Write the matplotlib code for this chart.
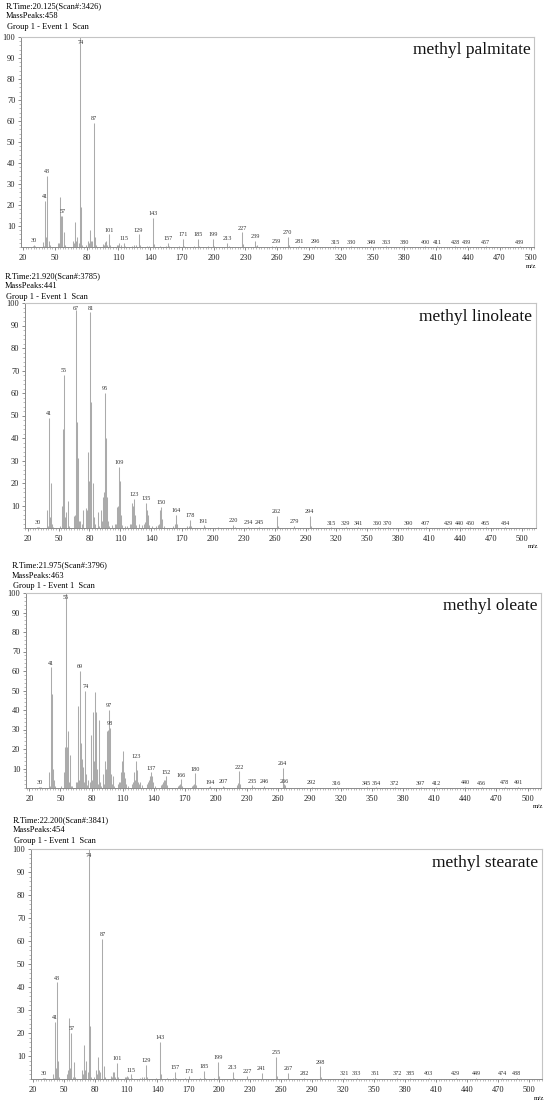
import numpy as np
import matplotlib
matplotlib.use('Agg')
import matplotlib.pyplot as plt
from matplotlib.ticker import MultipleLocator

W, H = 550, 1102
SERIF = ['Liberation Serif', 'DejaVu Serif']

# ---- methyl palmitate ----
pal_mz = [29, 30, 31, 39, 40, 41, 42, 43, 44, 45, 53, 54, 55, 56, 57, 59, 60, 67, 68, 69,
          70, 71, 73, 74, 75, 76, 79, 81, 82, 83, 84, 85, 87, 88, 89, 95, 96, 97, 98, 99,
          101, 102, 109, 110, 111, 112, 115, 116, 123, 125, 127, 129, 130, 137, 139, 143, 144,
          149, 155, 157, 158, 167, 171, 172, 181, 185, 186, 195, 199, 200, 213, 214, 227, 228,
          239, 240, 241, 255, 259, 270, 271, 281, 296, 315, 330, 349, 363, 380, 400, 411, 428,
          439, 457, 489]
pal_int = [0.5, 1, 0.5, 2.5, 0.5, 22, 5, 34, 3, 1, 2, 2, 24, 15, 15, 7, 1, 3, 2, 12,
           3, 5, 2, 100, 19, 1, 1, 3, 2, 8, 3, 3, 59, 5, 1, 1.5, 1, 2.5, 3, 1,
           6, 1, 1, 1, 2, 1, 2, 0.5, 0.5, 1, 1, 6, 1, 0.5, 0.5, 14, 1.5,
           0.5, 0.5, 2, 0.5, 0.5, 4, 0.5, 0.5, 4, 0.5, 0.5, 4, 0.5, 2, 0.5, 7, 1.5,
           3, 0.5, 1, 0.5, 0.6, 5, 1, 0.4, 0.4, 0.3, 0.3, 0.3, 0.3, 0.3, 0.3, 0.3, 0.3,
           0.3, 0.3, 0.3]
pal_labels = [30, 41, 43, 57, 74, 87, 101, 115, 129, 143, 157, 171, 185, 199, 213, 227,
              239, 259, 270, 281, 296, 315, 330, 349, 363, 380, 400, 411, 428, 439, 457, 489]

# ---- methyl linoleate ----
lin_mz = [29, 30, 31, 39, 40, 41, 42, 43, 44, 45, 51, 53, 54, 55, 56, 57, 59, 60, 65, 66,
          67, 68, 69, 70, 71, 73, 74, 77, 78, 79, 80, 81, 82, 83, 84, 85, 88, 89, 91, 92,
          93, 94, 95, 96, 97, 98, 99, 102, 105, 106, 107, 108, 109, 110, 111, 112, 115, 117,
          119, 120, 121, 122, 123, 124, 125, 128, 131, 133, 134, 135, 136, 137, 138, 141, 145,
          147, 148, 149, 150, 151, 152, 161, 163, 164, 165, 175, 177, 178, 179, 191, 192, 205,
          220, 221, 234, 245, 262, 263, 279, 294, 295, 315, 329, 341, 360, 370, 390, 407, 429,
          440, 450, 465, 484]
lin_int = [0.3, 0.5, 0.3, 8, 1, 49, 5, 20, 2, 0.5, 1, 10, 44, 68, 5, 7, 12, 1, 5.5, 6,
           97, 47, 31, 3, 3, 2, 8, 9, 8, 34, 21, 96, 56, 20, 5, 2, 7, 1, 8, 3,
           14, 16, 60, 40, 14, 3, 1, 1.5, 2, 2, 9.5, 10, 27, 21, 6, 1.5, 1, 1,
           2, 2, 11, 10, 13, 6, 1.5, 2, 1.5, 2, 2.5, 11, 8, 6, 1.5, 1, 1,
           1.5, 2, 8, 9.5, 4, 1, 1, 2, 6, 2, 1, 1, 3.5, 1, 1.2, 0.5, 0.5,
           1.5, 0.5, 0.6, 0.5, 5.5, 1, 1, 5.5, 1, 0.3, 0.3, 0.3, 0.3, 0.3, 0.3, 0.3, 0.3,
           0.3, 0.3, 0.3, 0.3]
lin_labels = [30, 41, 55, 67, 81, 95, 109, 123, 135, 150, 164, 178, 191, 220, 234, 245,
              262, 279, 294, 315, 329, 341, 360, 370, 390, 407, 429, 440, 450, 465, 484]

# ---- methyl oleate ----
ole_mz = [29, 30, 31, 39, 40, 41, 42, 43, 44, 45, 51, 53, 54, 55, 56, 57, 58, 59, 60, 61,
          65, 66, 67, 68, 69, 70, 71, 72, 73, 74, 75, 76, 77, 78, 79, 80, 81, 82, 83, 84,
          85, 86, 87, 88, 89, 91, 92, 93, 94, 95, 96, 97, 98, 99, 100, 101, 102, 105, 106,
          107, 108, 109, 110, 111, 112, 113, 115, 119, 120, 121, 122, 123, 124, 125, 126, 127,
          129, 133, 134, 135, 136, 137, 138, 139, 141, 147, 148, 149, 150, 151, 152, 153, 163,
          164, 165, 166, 167, 177, 178, 179, 180, 181, 193, 194, 207, 208, 220, 221, 222, 223,
          235, 236, 246, 264, 265, 266, 292, 316, 345, 354, 372, 397, 412, 440, 456, 478, 491]
ole_int = [0.3, 0.5, 0.3, 8, 1, 62, 48, 10, 4, 1, 1, 8, 21, 100, 21, 29, 3, 17, 1, 1,
           3, 3, 42, 4, 60, 23, 15, 11, 3, 50, 7, 1.5, 4, 3, 27, 4, 39, 14, 49, 39,
           10, 2, 35, 3, 1, 7, 2, 14, 10, 29, 30, 40, 31, 7, 2, 6, 1, 2, 3,
           3, 8, 14, 19, 8, 5, 2, 1, 2, 3, 8, 4, 14, 9, 3, 2, 3,
           1.5, 2, 3, 4, 6, 8, 6, 3, 1, 1.5, 2, 3, 4, 4, 6, 1.5, 1,
           1.5, 2, 4.5, 1, 1, 1.5, 2, 7.5, 1.5, 0.5, 0.8, 1, 0.5, 1.5, 2.5, 8.5, 2,
           1.5, 0.5, 1, 10.5, 2, 1.5, 0.5, 0.4, 0.4, 0.3, 0.4, 0.4, 0.4, 0.6, 0.4, 0.5, 0.5]
ole_labels = [30, 41, 55, 69, 74, 97, 98, 123, 137, 152, 166, 180, 194, 207, 222, 235, 246,
              264, 266, 292, 316, 345, 354, 372, 397, 412, 440, 456, 478, 491]

# ---- methyl stearate ----
ste_mz = [29, 30, 31, 39, 40, 41, 42, 43, 44, 45, 53, 54, 55, 56, 57, 58, 59, 60, 67, 68,
          69, 70, 71, 73, 74, 75, 76, 79, 81, 82, 83, 84, 85, 87, 88, 89, 95, 96, 97, 98,
          99, 101, 102, 109, 110, 111, 112, 115, 116, 123, 125, 127, 129, 130, 139, 143, 144,
          149, 155, 157, 158, 167, 171, 181, 185, 186, 195, 199, 200, 213, 214, 227, 241, 255,
          256, 267, 282, 298, 299, 321, 333, 351, 372, 385, 403, 429, 449, 474, 488]
ste_int = [0.3, 0.5, 0.3, 2, 0.5, 25, 5, 42, 8, 1, 2, 4, 26.5, 5, 20, 1, 7.5, 1, 4, 2,
           15, 4, 8, 3, 100, 23, 1, 1, 4, 2, 9.5, 4, 3, 61, 5.5, 1, 1.5, 1, 3, 3,
           1, 7, 1, 1, 1, 1.5, 1, 2, 0.5, 0.5, 1, 1, 6, 1, 0.5, 16, 2,
           0.5, 0.5, 3, 0.5, 0.5, 1.5, 0.5, 3.5, 0.5, 0.5, 7.5, 1.5, 3, 0.5, 1.5, 2.5, 9.5,
           1.5, 2.5, 0.5, 5.5, 1, 0.5, 0.4, 0.4, 0.4, 0.5, 0.4, 0.4, 0.4, 0.5, 0.5]
ste_labels = [30, 41, 43, 57, 74, 87, 101, 115, 129, 143, 157, 171, 185, 199, 213, 227,
              241, 255, 267, 282, 298, 321, 333, 351, 372, 385, 403, 429, 449, 474, 488]

names = ['methyl palmitate', 'methyl linoleate', 'methyl oleate', 'methyl stearate']
rtimes = ['R.Time:20.125(Scan#:3426)', 'R.Time:21.920(Scan#:3785)',
          'R.Time:21.975(Scan#:3796)', 'R.Time:22.200(Scan#:3841)']
masspeaks = ['MassPeaks:458', 'MassPeaks:441', 'MassPeaks:463', 'MassPeaks:454']
x_ticks = [20, 50, 80, 110, 140, 170, 200, 230, 260, 290, 320, 350, 380, 410, 440, 470, 500]

spectra = [(pal_mz, pal_int, pal_labels), (lin_mz, lin_int, lin_labels),
           (ole_mz, ole_int, ole_labels), (ste_mz, ste_int, ste_labels)]

# panel geometry in pixels: left, top, right, bottom, header x, header y, x limits
boxes = [(21, 37, 534, 247, 6, 6, (18, 502.5)),
         (25, 303, 536, 528, 5, 276, (17.4, 514)),
         (26, 593, 541, 788, 12, 565, (16.8, 513)),
         (31, 849, 542, 1079, 13, 820, (17.8, 512.5))]

fig = plt.figure(figsize=(W / 100, H / 100), dpi=100)

def fx(x):
    return x / W

def fy(y):
    return 1 - y / H

for i, (mz, inten, labels) in enumerate(spectra):
    l, t, r, b, hx, hy, xl = boxes[i]
    ax = fig.add_axes([fx(l), fy(b), (r - l) / W, (b - t) / H])
    ax.vlines(mz, 0, inten, color='#ababab', lw=0.75)
    ax.set_xlim(*xl)
    ax.set_ylim(0, 100)

    lookup = dict(zip(mz, inten))
    for m in labels:
        h = lookup.get(m, 0.3)
        ax.text(m, min(h + 0.8, 96.3), str(m), ha='center', va='bottom',
                fontsize=4.4, family=SERIF, color='#333333')

    ax.set_xticks(x_ticks)
    ax.xaxis.set_minor_locator(MultipleLocator(2.5))
    ax.set_yticks(range(10, 101, 10))
    ax.yaxis.set_minor_locator(MultipleLocator(2))
    ax.tick_params(which='major', direction='out', length=2.5, width=0.6,
                   color='#777777', labelsize=6, pad=1.5)
    ax.tick_params(which='minor', direction='out', length=1.3, width=0.4, color='#888888')
    ax.tick_params(axis='x', which='major', pad=2.5)
    for lab in ax.get_xticklabels() + ax.get_yticklabels():
        lab.set_family(SERIF)
        lab.set_color('#222222')
    for side in ['top', 'right']:
        ax.spines[side].set_color('#c4c4c4')
        ax.spines[side].set_linewidth(0.8)
    for side in ['left', 'bottom']:
        ax.spines[side].set_color('#8a8a8a')
        ax.spines[side].set_linewidth(0.7)

    ax.text(0.993, 0.975, names[i], transform=ax.transAxes, ha='right', va='top',
            fontsize=12.5, family=SERIF, color='#111111')

    fig.text(fx(hx), fy(hy), rtimes[i], ha='left', va='center', fontsize=6, family=SERIF)
    fig.text(fx(hx), fy(hy + 10.5), masspeaks[i], ha='left', va='center', fontsize=6, family=SERIF)
    fig.text(fx(hx + 1), fy(hy + 21), 'Group 1 - Event 1  Scan', ha='left', va='center',
             fontsize=6, family=SERIF)
    fig.text(fx(r - 3), fy(b + 19), 'm/z', ha='center', va='center', fontsize=5, family=SERIF)

fig.savefig('out.png', dpi=100, facecolor='white')
